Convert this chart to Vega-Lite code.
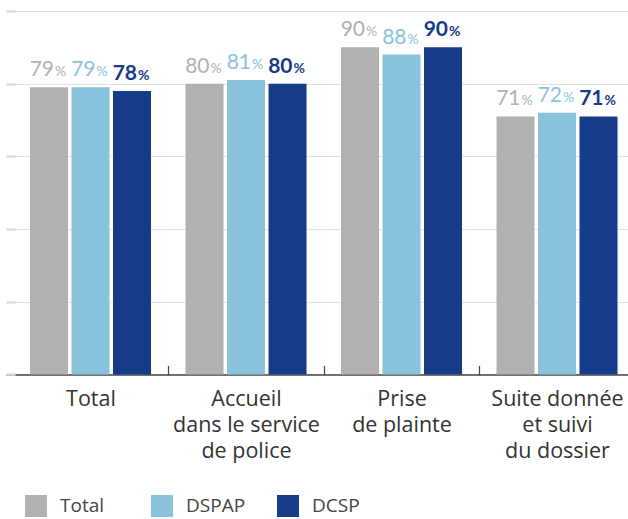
{
  "$schema": "https://vega.github.io/schema/vega-lite/v6.json",
  "autosize": "none",
  "width": 622,
  "height": 363.4,
  "padding": {"left": 6, "top": 11, "right": 0, "bottom": 144.6},
  "background": "white",
  "config": {"view": {"stroke": null}, "font": "Open Sans"},
  "data": {"values": [
    {"cat": "Total", "serie": "Total", "v": 79},
    {"cat": "Total", "serie": "DSPAP", "v": 79},
    {"cat": "Total", "serie": "DCSP", "v": 78},
    {"cat": "Accueil|dans le service|de police", "serie": "Total", "v": 80},
    {"cat": "Accueil|dans le service|de police", "serie": "DSPAP", "v": 81},
    {"cat": "Accueil|dans le service|de police", "serie": "DCSP", "v": 80},
    {"cat": "Prise|de plainte", "serie": "Total", "v": 90},
    {"cat": "Prise|de plainte", "serie": "DSPAP", "v": 88},
    {"cat": "Prise|de plainte", "serie": "DCSP", "v": 90},
    {"cat": "Suite donnée|et suivi|du dossier", "serie": "Total", "v": 71},
    {"cat": "Suite donnée|et suivi|du dossier", "serie": "DSPAP", "v": 72},
    {"cat": "Suite donnée|et suivi|du dossier", "serie": "DCSP", "v": 71}
  ]},
  "encoding": {
    "x": {
      "field": "cat", "type": "nominal", "sort": null,
      "scale": {"paddingInner": 0, "paddingOuter": 0},
      "axis": {
        "title": null, "grid": false,
        "bandPosition": 0, "tickOffset": 6.75,
        "tickSize": -9, "tickWidth": 1.2, "tickColor": "#444",
        "tickOpacity": {"condition": {"test": "datum.value === 'Total'", "value": 0}, "value": 1},
        "domainColor": "#444", "domainWidth": 1.5,
        "labelAngle": 0, "labelFont": "Open Sans", "labelFontSize": 21.5, "labelColor": "#333",
        "labelPadding": 23, "labelLineHeight": 26, "labelBaseline": "top",
        "labelExpr": "split(datum.label, '|')"
      }
    },
    "xOffset": {
      "field": "serie", "type": "nominal",
      "scale": {"domain": ["Total", "DSPAP", "DCSP"], "paddingInner": 0.084, "paddingOuter": 0.4155, "align": 0.696}
    },
    "y": {
      "field": "v", "type": "quantitative",
      "scale": {"domain": [0, 100], "nice": false},
      "axis": {
        "title": null, "labels": false, "domain": false,
        "values": [0, 20, 40, 60, 80, 100],
        "tickSize": -9, "tickWidth": 2.5, "tickColor": "#dcdcdc",
        "gridColor": "#e2e2e2", "gridWidth": 1
      }
    },
    "color": {
      "field": "serie", "type": "nominal",
      "scale": {"domain": ["Total", "DSPAP", "DCSP"], "range": ["#b1b1b1", "#89c2dc", "#163c89"]},
      "legend": {
        "title": null, "orient": "none", "legendX": 19, "legendY": 484,
        "direction": "horizontal", "columns": 3, "gridAlign": "all",
        "symbolType": "square", "symbolSize": 484, "symbolStrokeWidth": 0, "symbolOpacity": 1,
        "labelFont": "Open Sans", "labelFontSize": 19, "labelColor": "#444", "labelOffset": 13,
        "columnPadding": 31
      }
    }
  },
  "layer": [
    {"mark": {"type": "bar"}},
    {
      "transform": [{"filter": "datum.serie !== 'DCSP'"}],
      "mark": {"type": "text", "font": "Lato", "fontSize": 21, "align": "right", "baseline": "alphabetic", "dx": 5, "dy": -11},
      "encoding": {"text": {"field": "v", "type": "quantitative"}}
    },
    {
      "transform": [{"filter": "datum.serie !== 'DCSP'"}],
      "mark": {"type": "text", "font": "Lato", "fontSize": 14, "align": "left", "baseline": "alphabetic", "dx": 6, "dy": -11},
      "encoding": {"text": {"value": "%"}}
    },
    {
      "transform": [{"filter": "datum.serie === 'DCSP'"}],
      "mark": {"type": "text", "font": "Lato", "fontSize": 21, "fontWeight": "bold", "align": "right", "baseline": "alphabetic", "dx": 5, "dy": -11},
      "encoding": {"text": {"field": "v", "type": "quantitative"}}
    },
    {
      "transform": [{"filter": "datum.serie === 'DCSP'"}],
      "mark": {"type": "text", "font": "Lato", "fontSize": 14, "fontWeight": "bold", "align": "left", "baseline": "alphabetic", "dx": 6, "dy": -11},
      "encoding": {"text": {"value": "%"}}
    }
  ]
}
